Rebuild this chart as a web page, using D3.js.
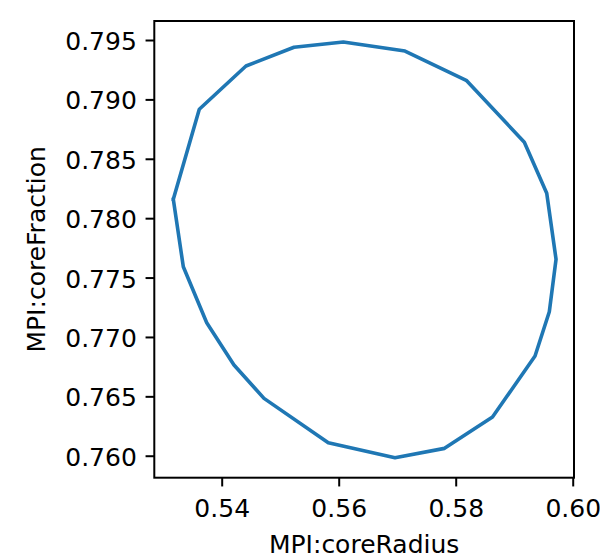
<!DOCTYPE html>
<html>
<head>
<meta charset="utf-8">
<script src="https://cdn.jsdelivr.net/npm/d3@7"></script>
<style>
  html, body { margin: 0; padding: 0; background: #fff; }
  svg { display: block; }
  text { font-family: "DejaVu Sans", sans-serif; fill: #000; }
</style>
</head>
<body>
<svg id="chart" width="600" height="557"></svg>
<script>
// Contour of MPI:coreRadius vs MPI:coreFraction (closed loop)
const coreRadius = [
  0.53173, 0.53344, 0.53744, 0.54210, 0.54723, 0.55822, 0.56962, 0.57809,
  0.58629, 0.59356, 0.59600, 0.59715, 0.59556, 0.59173, 0.58188, 0.57133,
  0.56079, 0.55236, 0.54415, 0.53617, 0.53173
];
const coreFraction = [
  0.78159, 0.77591, 0.77120, 0.76764, 0.76483, 0.76109, 0.75983, 0.76062,
  0.76326, 0.76839, 0.77212, 0.77654, 0.78209, 0.78639, 0.79157, 0.79407,
  0.79483, 0.79439, 0.79281, 0.78917, 0.78159
];
const xTicks = [0.54, 0.56, 0.58, 0.60];
const yTicks = [0.760, 0.765, 0.770, 0.775, 0.780, 0.785, 0.790, 0.795];

const svg = d3.select("#chart");
const m = { left: 154.3, right: 574, top: 21, bottom: 477.7 };

const x = d3.scaleLinear().domain([0.52848, 0.60022]).range([m.left, m.right]);
const y = d3.scaleLinear().domain([0.75815, 0.79660]).range([m.bottom, m.top]);

const pts = coreRadius.map((r, i) => [r, coreFraction[i]]);

svg.append("path")
  .datum(pts)
  .attr("fill", "none")
  .attr("stroke", "#1f77b4")
  .attr("stroke-width", 3.6)
  .attr("stroke-linejoin", "round")
  .attr("stroke-linecap", "square")
  .attr("d", d3.line().x(d => x(d[0])).y(d => y(d[1])));

const fontSize = 25;
const tickLen = 8.75;
const tickPad = 8.75;

const xAxis = svg.append("g")
  .attr("transform", `translate(0,${m.bottom})`)
  .call(d3.axisBottom(x).tickValues(xTicks).tickFormat(d3.format(".2f"))
    .tickSizeInner(tickLen).tickSizeOuter(0).tickPadding(tickPad));
const yAxis = svg.append("g")
  .attr("transform", `translate(${m.left},0)`)
  .call(d3.axisLeft(y).tickValues(yTicks).tickFormat(d3.format(".3f"))
    .tickSizeInner(tickLen).tickSizeOuter(0).tickPadding(tickPad));

[xAxis, yAxis].forEach(g => {
  g.select(".domain").remove();
  g.selectAll(".tick line").attr("stroke", "#000").attr("stroke-width", 2);
  g.selectAll(".tick text")
    .attr("font-family", "DejaVu Sans, sans-serif")
    .attr("font-size", fontSize)
    .attr("fill", "#000");
});
xAxis.selectAll(".tick text").attr("dy", "0.88em");
yAxis.selectAll(".tick text").attr("dy", "0.38em");

// frame
svg.append("rect")
  .attr("x", m.left).attr("y", m.top)
  .attr("width", m.right - m.left).attr("height", m.bottom - m.top)
  .attr("fill", "none")
  .attr("stroke", "#000")
  .attr("stroke-width", 2);

svg.append("text")
  .attr("x", (m.left + m.right) / 2)
  .attr("y", 552.5)
  .attr("text-anchor", "middle")
  .attr("font-size", fontSize)
  .text("MPI:coreRadius");

svg.append("text")
  .attr("transform", `translate(44.5,${(m.top + m.bottom) / 2}) rotate(-90)`)
  .attr("text-anchor", "middle")
  .attr("font-size", fontSize)
  .text("MPI:coreFraction");
</script>
</body>
</html>
